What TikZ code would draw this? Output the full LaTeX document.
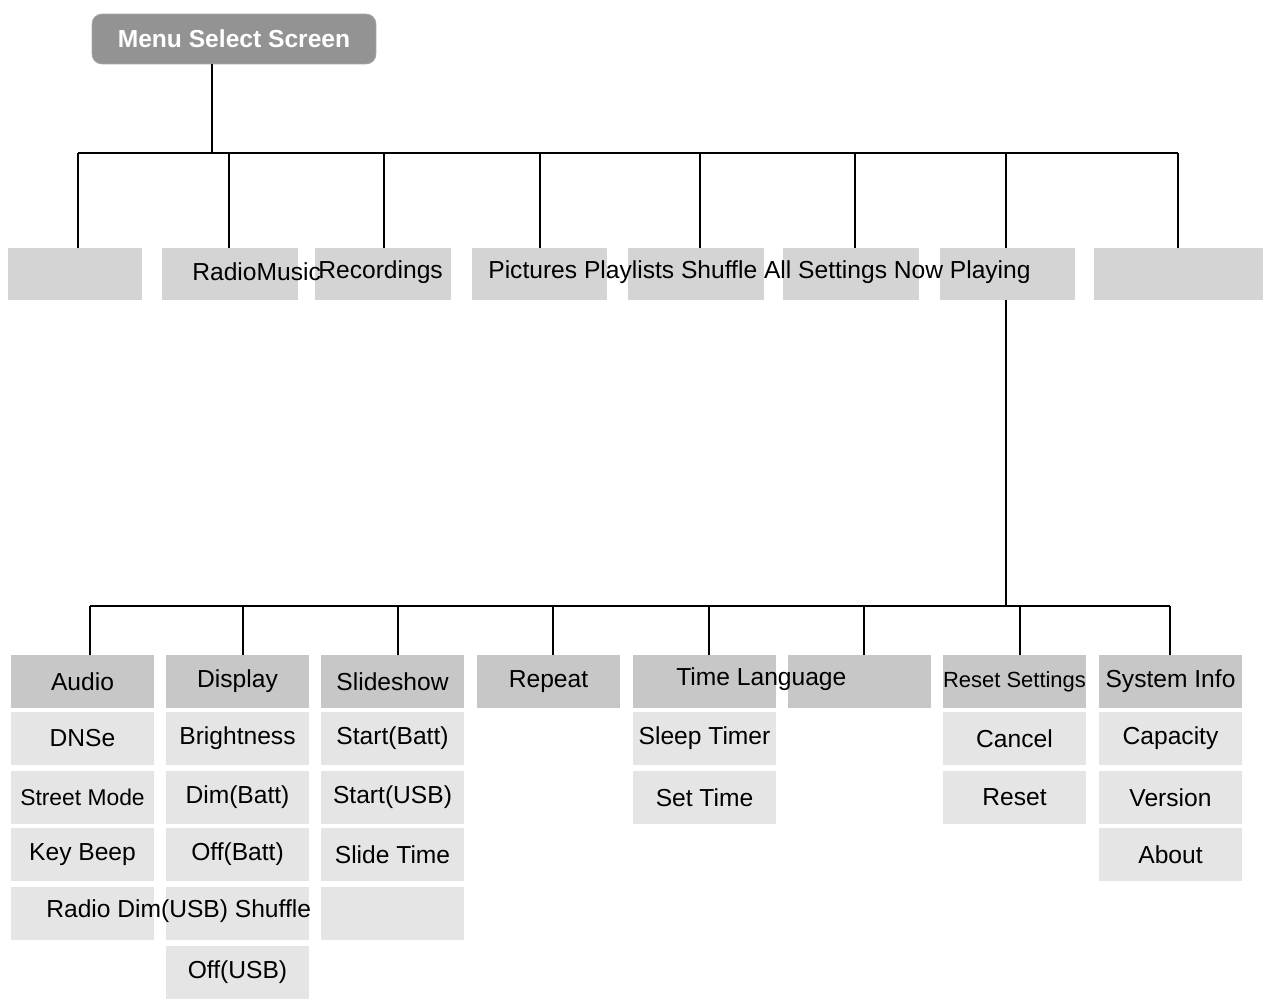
\documentclass[tikz,border=0pt]{standalone}
\usepackage{fontspec}
\setmainfont{Liberation Sans}
\usetikzlibrary{positioning}

\begin{document}
\begin{tikzpicture}[x=0.02cm,y=-0.02cm,
		menubox/.style={rounded corners=2mm,fill=gray!85,draw=gray!70,text=white,font=\bfseries\fontsize{14}{16}\selectfont,minimum width=5.68cm,minimum height=1cm},
		topbox/.style={fill=black!17,minimum height=1.04cm,inner sep=0pt},
		headbox/.style={fill=black!22,minimum width=2.86cm,minimum height=1.06cm,inner sep=0pt,font=\fontsize{14}{16}\selectfont},
		itembox/.style={fill=black!10,minimum width=2.86cm,minimum height=1.06cm,inner sep=0pt,font=\fontsize{14}{16}\selectfont},
		label/.style={anchor=west,inner sep=0pt,font=\fontsize{14}{16}\selectfont}]
		\useasboundingbox (0,0) rectangle (1267,1001);

		% menu and first level
		\node[menubox]								(menu)	at (234,39)		{Menu Select Screen};
		\node[topbox,minimum width=2.68cm]			(t1)	at (75,274)		{};
		\node[topbox,minimum width=2.72cm]			(t2)	at (230,274)	{};
		\node[topbox,minimum width=2.72cm]			(t3)	at (383,274)	{};
		\node[topbox,minimum width=2.70cm]			(t4)	at (539.5,274)	{};
		\node[topbox,minimum width=2.72cm]			(t5)	at (696,274)	{};
		\node[topbox,minimum width=2.72cm]			(t6)	at (851,274)	{};
		\node[topbox,minimum width=2.70cm]			(t7)	at (1007.5,274)	{};
		\node[topbox,minimum width=3.38cm]			(t8)	at (1178.5,274)	{};
		\node[label]								(l1)	at (192,272)	{RadioMusic};
		\node[label]								(l2)	at (318,272)	{Recordings};
		\node[label]								(l3)	at (488,272)	{Pictures Playlists Shuffle All Settings Now Playing};

		\coordinate (m0) at (212,64);
		\coordinate (m1) at (212,153);
		\coordinate (b1) at (78,153);
		\coordinate (b2) at (229,153);
		\coordinate (b3) at (384,153);
		\coordinate (b4) at (540,153);
		\coordinate (b5) at (700,153);
		\coordinate (b6) at (855,153);
		\coordinate (b7) at (1006,153);
		\coordinate (b8) at (1178,153);
		\draw[thick] (m0) -- (m1);
		\draw[thick] (b1) -- (b8);
		\foreach \i in {1,...,8}
			\draw[thick] (b\i) -- (b\i |- t\i.north);

		% settings tree
		\foreach \n/\x in {1/82.5,2/237.5,3/392.5,4/548.5,5/704.5,6/859.5,7/1014.5,8/1170.5}
			\coordinate (c\n) at (\x,681.5);
		\node[headbox]	(a0)	at (c1)				{Audio};
		\node[itembox]	(a1)	at (82.5,738.5)		{DNSe};
		\node[itembox]	(a2)	at (82.5,797.5)		{\fontsize{13}{15}\selectfont Street Mode};
		\node[itembox]	(a3)	at (82.5,854.5)		{Key Beep};
		\node[itembox]	(a4)	at (82.5,913.5)		{};
		\node[headbox]	(d0)	at (c2)				{Display};
		\node[itembox]	(d1)	at (237.5,738.5)	{Brightness};
		\node[itembox]	(d2)	at (237.5,797.5)	{Dim(Batt)};
		\node[itembox]	(d3)	at (237.5,854.5)	{Off(Batt)};
		\node[itembox]	(d4)	at (237.5,913.5)	{};
		\node[itembox]	(d5)	at (237.5,972)		{Off(USB)};
		\node[headbox]	(s0)	at (c3)				{Slideshow};
		\node[itembox]	(s1)	at (392.5,738.5)	{Start(Batt)};
		\node[itembox]	(s2)	at (392.5,797.5)	{Start(USB)};
		\node[itembox]	(s3)	at (392.5,854.5)	{Slide Time};
		\node[itembox]	(s4)	at (392.5,913.5)	{};
		\node[headbox]	(r0)	at (c4)				{Repeat};
		\node[headbox]	(g0)	at (c5)				{};
		\node[itembox]	(g1)	at (704.5,738.5)	{Sleep Timer};
		\node[itembox]	(g2)	at (704.5,797.5)	{Set Time};
		\node[headbox]	(h0)	at (c6)				{};
		\node[headbox]	(e0)	at (c7)				{\fontsize{12.5}{15}\selectfont Reset Settings};
		\node[itembox]	(e1)	at (1014.5,738.5)	{Cancel};
		\node[itembox]	(e2)	at (1014.5,797.5)	{Reset};
		\node[headbox]	(y0)	at (c8)				{System Info};
		\node[itembox]	(y1)	at (1170.5,738.5)	{Capacity};
		\node[itembox]	(y2)	at (1170.5,797.5)	{Version};
		\node[itembox]	(y3)	at (1170.5,854.5)	{About};
		\node[label]	(l4)	at (676,679)		{Time Language};
		\node[label]	(l5)	at (46,911)			{Radio Dim(USB) Shuffle};

		\coordinate (n0) at (1006,606);
		\coordinate (k1) at (90,606);
		\coordinate (k2) at (243,606);
		\coordinate (k3) at (398,606);
		\coordinate (k4) at (553,606);
		\coordinate (k5) at (709,606);
		\coordinate (k6) at (864,606);
		\coordinate (k7) at (1020,606);
		\coordinate (k8) at (1170,606);
		\draw[thick] (t7.south -| n0) -- (n0);
		\draw[thick] (k1) -- (k8);
		\foreach \k/\t in {1/a0,2/d0,3/s0,4/r0,5/g0,6/h0,7/e0,8/y0}
			\draw[thick] (k\k) -- (k\k |- \t.north);
	\end{tikzpicture}
\end{document}
